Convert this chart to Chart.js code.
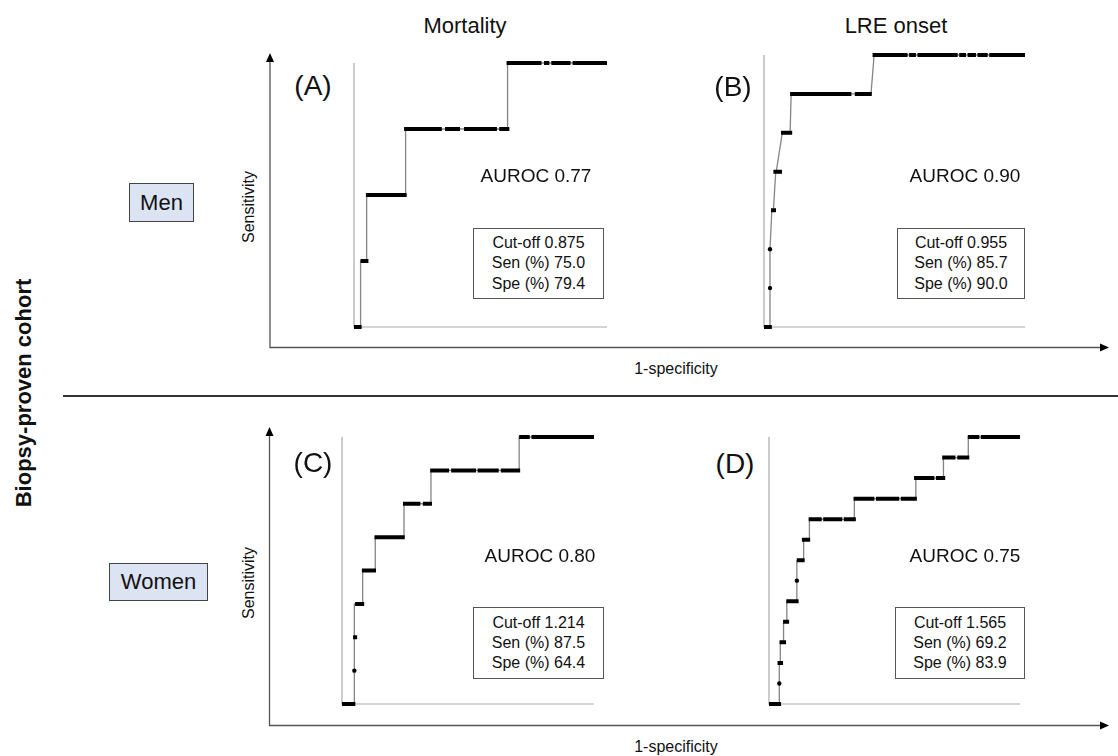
<!DOCTYPE html>
<html>
<head>
<meta charset="utf-8">
<script src="https://cdn.jsdelivr.net/npm/chart.js@4.4.1/dist/chart.umd.min.js"></script>
<style>
  body { margin: 0; background: #fff; }
  #fig { position: relative; width: 1118px; height: 756px; overflow: hidden; font-family: "Liberation Sans", Arial, sans-serif; color: #111; }
  .txt { position: absolute; transform: translate(-50%, -50%); white-space: nowrap; line-height: 1; }
  .rot { transform: translate(-50%, -50%) rotate(-90deg); }
  .box { position: absolute; border: 1px solid #555; background: #fff; box-sizing: border-box;
         display: flex; flex-direction: column; justify-content: center; align-items: center;
         font-size: 16px; line-height: 20.3px; }
  .sex { position: absolute; border: 1px solid #444; background: #dce3f3; box-sizing: border-box;
         display: flex; align-items: center; justify-content: center; font-size: 22px; }
  canvas { position: absolute; }
  svg { position: absolute; left: 0; top: 0; }
</style>
</head>
<body>
<div id="fig">
  <svg width="1118" height="756">
    <!-- outer axes, upper row -->
    <polyline points="270,60 270,347.5 1101,347.5" fill="none" stroke="#555" stroke-width="1.3"/>
    <polygon points="270,53 266,62 274,62" fill="#000"/>
    <polygon points="1109,347.5 1100,343.5 1100,351.5" fill="#000"/>
    <!-- separator -->
    <line x1="63" y1="396" x2="1118" y2="396" stroke="#333" stroke-width="2"/>
    <!-- outer axes, lower row -->
    <polyline points="269.5,434 269.5,725.5 1101,725.5" fill="none" stroke="#555" stroke-width="1.3"/>
    <polygon points="269.5,427 265.5,436 273.5,436" fill="#000"/>
    <polygon points="1109,725.5 1100,721.5 1100,729.5" fill="#000"/>
  </svg>

  <div class="txt" style="left:465px;top:26px;font-size:22px">Mortality</div>
  <div class="txt" style="left:896px;top:26px;font-size:22px">LRE onset</div>
  <div class="txt rot" style="left:24px;top:393px;font-size:22px;font-weight:bold">Biopsy-proven cohort</div>
  <div class="txt rot" style="left:249px;top:207px;font-size:16px">Sensitivity</div>
  <div class="txt rot" style="left:249px;top:583px;font-size:16px">Sensitivity</div>
  <div class="txt" style="left:676px;top:369px;font-size:16px">1-specificity</div>
  <div class="txt" style="left:676px;top:747px;font-size:16px">1-specificity</div>
  <div class="sex" style="left:129px;top:183px;width:65px;height:39px">Men</div>
  <div class="sex" style="left:109px;top:563px;width:99px;height:38px">Women</div>

  <canvas id="panelA"></canvas>
  <canvas id="panelB"></canvas>
  <canvas id="panelC"></canvas>
  <canvas id="panelD"></canvas>
</div>

<script>
// ROC data: x = 1-specificity, y = sensitivity
// curve = corner points of the step line, runs = [sens, from, to] of the dense marker bars
const curveA = [[0,0],[0.026,0],[0.026,0.25],[0.05,0.25],[0.05,0.5],[0.204,0.5],[0.204,0.75],[0.607,0.75],[0.607,1],[1,1]];
const runsA = [[0,0,0.03],[0.25,0.026,0.057],[0.5,0.047,0.208],
  [0.75,0.198,0.347],[0.75,0.36,0.419],[0.75,0.435,0.565],[0.75,0.574,0.614],
  [1,0.603,0.741],[1,0.751,0.772],[1,0.78,0.856],[1,0.864,1]];
const dotsA = [];

const curveB = [[0,0],[0.023,0],[0.023,0.143],[0.023,0.286],[0.03,0.429],[0.036,0.429],[0.045,0.571],[0.047,0.571],
  [0.07,0.714],[0.1,0.714],[0.104,0.857],[0.41,0.857],[0.422,1],[1,1]];
const runsB = [[0,0,0.03],[0.429,0.027,0.046],[0.571,0.036,0.069],[0.714,0.065,0.108],
  [0.857,0.1,0.335],[0.857,0.348,0.413],
  [1,0.416,0.55],[1,0.556,0.582],[1,0.588,0.742],[1,0.748,0.774],[1,0.78,0.812],[1,0.818,0.857],[1,0.863,1]];
const dotsB = [[0.023,0.143],[0.023,0.286]];

const curveC = [[0,0],[0.049,0],[0.049,0.375],[0.082,0.375],[0.082,0.5],[0.132,0.5],[0.132,0.625],[0.246,0.625],
  [0.246,0.75],[0.353,0.75],[0.353,0.875],[0.703,0.875],[0.703,1],[1,1]];
const runsC = [[0,0,0.053],[0.25,0.044,0.06],[0.375,0.052,0.088],[0.5,0.079,0.135],[0.625,0.129,0.249],
  [0.75,0.242,0.311],[0.75,0.321,0.357],
  [0.875,0.35,0.425],[0.875,0.433,0.532],[0.875,0.538,0.622],[0.875,0.63,0.707],
  [1,0.703,0.745],[1,0.752,1]];
const dotsC = [[0.049,0.125]];

const curveD = [[0,0],[0.041,0],[0.041,0.154],[0.045,0.154],[0.045,0.231],[0.058,0.231],[0.058,0.308],[0.071,0.308],
  [0.071,0.385],[0.111,0.385],[0.111,0.538],[0.138,0.538],[0.138,0.615],[0.161,0.615],[0.161,0.692],[0.34,0.692],
  [0.34,0.769],[0.585,0.769],[0.585,0.846],[0.695,0.846],[0.695,0.923],[0.794,0.923],[0.794,1],[1,1]];
const runsD = [[0,0,0.048],[0.154,0.034,0.056],[0.231,0.042,0.068],[0.308,0.056,0.08],[0.385,0.069,0.118],
  [0.538,0.111,0.142],[0.615,0.131,0.164],
  [0.692,0.158,0.21],[0.692,0.216,0.292],[0.692,0.298,0.346],
  [0.769,0.337,0.42],[0.769,0.426,0.519],[0.769,0.525,0.589],
  [0.846,0.578,0.659],[0.846,0.665,0.702],[0.923,0.69,0.743],[0.923,0.75,0.798],
  [1,0.792,0.838],[1,0.844,1]];
const dotsD = [[0.041,0.077],[0.111,0.462]];

const panelTags = ["(A)", "(B)", "(C)", "(D)"];
const aurocs = ["0.77", "0.90", "0.80", "0.75"];
const cutoffs = ["0.875", "0.955", "1.214", "1.565"];
const sens = ["75.0", "85.7", "87.5", "69.2"];
const spec = ["79.4", "90.0", "64.4", "83.9"];

// plot areas in page pixels and where the annotations sit
const panels = [
  { id: "panelA", l: 354, t: 63, r: 607, b: 327, tag: [313, 86], auroc: [536, 175], box: [473, 228, 131, 71] },
  { id: "panelB", l: 764, t: 55, r: 1025, b: 327, tag: [733, 87], auroc: [965, 175], box: [897, 228, 128, 71] },
  { id: "panelC", l: 342, t: 437, r: 594, b: 704, tag: [313, 463], auroc: [540, 555], box: [473, 607, 131, 72] },
  { id: "panelD", l: 769, t: 437, r: 1020, b: 704, tag: [735, 464], auroc: [965, 555], box: [895, 607, 130, 72] }
];
const curves = [curveA, curveB, curveC, curveD];
const runs = [runsA, runsB, runsC, runsD];
const dots = [dotsA, dotsB, dotsC, dotsD];

const innerAxes = {
  id: "innerAxes",
  beforeDatasetsDraw(chart) {
    const { ctx, scales: { x, y } } = chart;
    ctx.save();
    ctx.strokeStyle = "#aaa";
    ctx.lineWidth = 1.2;
    ctx.beginPath();
    ctx.moveTo(x.getPixelForValue(0), y.getPixelForValue(1));
    ctx.lineTo(x.getPixelForValue(0), y.getPixelForValue(0));
    ctx.lineTo(x.getPixelForValue(1), y.getPixelForValue(0));
    ctx.stroke();
    ctx.restore();
  }
};

const fig = document.getElementById("fig");
const pad = 12;

panels.forEach((p, i) => {
  const canvas = document.getElementById(p.id);
  canvas.width = p.r - p.l + 2 * pad;
  canvas.height = p.b - p.t + 2 * pad;
  canvas.style.left = (p.l - pad) + "px";
  canvas.style.top = (p.t - pad) + "px";

  const runData = [];
  runs[i].forEach(([s, x0, x1]) => {
    runData.push({ x: x0, y: s }, { x: x1, y: s }, { x: x1, y: null });
  });

  new Chart(canvas, {
    type: "scatter",
    data: {
      datasets: [
        { data: dots[i].map(([x, y]) => ({ x, y })), pointRadius: 2.2, pointBackgroundColor: "#000",
          pointBorderWidth: 0, showLine: false, clip: false },
        { data: runData, showLine: true, spanGaps: false, borderColor: "#000", borderWidth: 4,
          borderCapStyle: "butt", pointRadius: 0, clip: false },
        { data: curves[i].map(([x, y]) => ({ x, y })), showLine: true, borderColor: "#858585",
          borderWidth: 1.3, pointRadius: 0, clip: false }
      ]
    },
    options: {
      responsive: false,
      animation: false,
      events: [],
      layout: { padding: pad },
      plugins: { legend: { display: false }, tooltip: { enabled: false } },
      scales: {
        x: { type: "linear", min: 0, max: 1, display: false },
        y: { type: "linear", min: 0, max: 1, display: false }
      }
    },
    plugins: [innerAxes]
  });

  const tag = document.createElement("div");
  tag.className = "txt";
  tag.style.cssText = `left:${p.tag[0]}px;top:${p.tag[1]}px;font-size:28px`;
  tag.textContent = panelTags[i];
  fig.appendChild(tag);

  const au = document.createElement("div");
  au.className = "txt";
  au.style.cssText = `left:${p.auroc[0]}px;top:${p.auroc[1]}px;font-size:19px`;
  au.textContent = "AUROC " + aurocs[i];
  fig.appendChild(au);

  const box = document.createElement("div");
  box.className = "box";
  box.style.cssText = `left:${p.box[0]}px;top:${p.box[1]}px;width:${p.box[2]}px;height:${p.box[3]}px`;
  box.innerHTML = `<div>Cut-off ${cutoffs[i]}</div><div>Sen (%) ${sens[i]}</div><div>Spe (%) ${spec[i]}</div>`;
  fig.appendChild(box);
});
</script>
</body>
</html>
